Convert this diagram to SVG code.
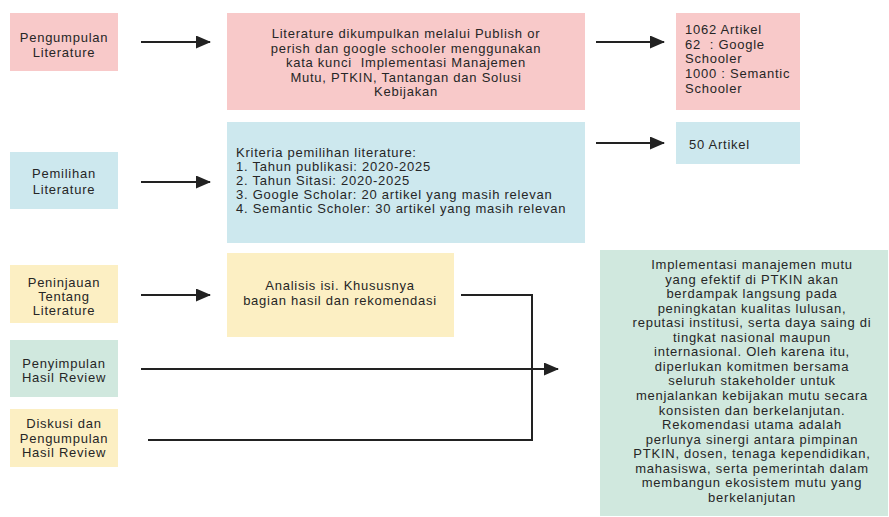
<svg xmlns="http://www.w3.org/2000/svg" width="889" height="517" viewBox="0 0 889 517">
<defs>
<marker id="ah" markerWidth="15" markerHeight="13" refX="14" refY="6.5" orient="auto" markerUnits="userSpaceOnUse" viewBox="0 0 15 13">
<path d="M0,0 L15,6.5 L0,13 Z" fill="#222"/>
</marker>
<style>
text{font-family:"Liberation Sans",Arial,sans-serif;font-size:13px;letter-spacing:0.75px;fill:#262626}
.c{text-anchor:middle}
.pre{white-space:pre}
.pink{fill:#F8C9C9}
.blue{fill:#CDE8EE}
.yel{fill:#FCEFC3}
.grn{fill:#D0E8DE}
.ln{stroke:#222;stroke-width:2;fill:none}
</style>
</defs>
<rect width="889" height="517" fill="#fff"/>
<g id="n1"><rect class="pink" x="10" y="13" width="108" height="58"/>
<text class="c" x="64" y="42">Pengumpulan</text><text class="c" x="64" y="57">Literature</text></g>
<g id="n2"><rect class="pink" x="227" y="13" width="358" height="97"/>
<text class="c" x="406" y="38">Literature dikumpulkan melalui Publish or</text>
<text class="c" x="406" y="53">perish dan google schooler menggunakan</text>
<text class="c pre" x="406" y="67" xml:space="preserve">kata kunci  Implementasi Manajemen</text>
<text class="c" x="406" y="82">Mutu, PTKIN, Tantangan dan Solusi</text>
<text class="c" x="406" y="96">Kebijakan</text></g>
<g id="n3"><rect class="pink" x="676" y="13" width="124" height="97"/>
<text x="685" y="34">1062 Artikel</text>
<text class="pre" x="685" y="49" xml:space="preserve">62  : Google</text>
<text x="685" y="63">Schooler</text>
<text x="685" y="78">1000 : Semantic</text>
<text x="685" y="93">Schooler</text></g>
<g id="n4"><rect class="blue" x="10" y="152" width="108" height="57"/>
<text class="c" x="64" y="178">Pemilihan</text><text class="c" x="64" y="194">Literature</text></g>
<g id="n5"><rect class="blue" x="227" y="122" width="358" height="121"/>
<text x="236" y="157">Kriteria pemilihan literature:</text>
<text x="236" y="171">1. Tahun publikasi: 2020-2025</text>
<text x="236" y="185">2. Tahun Sitasi: 2020-2025</text>
<text x="236" y="199">3. Google Scholar: 20 artikel yang masih relevan</text>
<text x="236" y="213">4. Semantic Scholer: 30 artikel yang masih relevan</text></g>
<g id="n6"><rect class="blue" x="676" y="122" width="124" height="42"/>
<text x="689" y="149">50 Artikel</text></g>
<g id="n7"><rect class="yel" x="10" y="265" width="108" height="58"/>
<text class="c" x="64" y="287">Peninjauan</text><text class="c" x="64" y="301">Tentang</text><text class="c" x="64" y="315">Literature</text></g>
<g id="n8"><rect class="yel" x="227" y="253" width="227" height="84"/>
<text class="c" x="340" y="290">Analisis isi. Khususnya</text>
<text class="c" x="340" y="305">bagian hasil dan rekomendasi</text></g>
<g id="n9"><rect class="grn" x="10" y="340" width="108" height="57"/>
<text class="c" x="64" y="368">Penyimpulan</text><text class="c" x="64" y="382">Hasil Review</text></g>
<g id="n10"><rect class="yel" x="10" y="409" width="108" height="58"/>
<text class="c" x="64" y="428">Diskusi dan</text><text class="c" x="64" y="443">Pengumpulan</text><text class="c" x="64" y="457">Hasil Review</text></g>
<g id="n11"><rect class="grn" x="600" y="250" width="288" height="266"/>
<text class="c" x="752" y="269">Implementasi manajemen mutu</text>
<text class="c" x="752" y="284">yang efektif di PTKIN akan</text>
<text class="c" x="752" y="298">berdampak langsung pada</text>
<text class="c" x="752" y="313">peningkatan kualitas lulusan,</text>
<text class="c" x="752" y="327">reputasi institusi, serta daya saing di</text>
<text class="c" x="752" y="342">tingkat nasional maupun</text>
<text class="c" x="752" y="356">internasional. Oleh karena itu,</text>
<text class="c" x="752" y="371">diperlukan komitmen bersama</text>
<text class="c" x="752" y="385">seluruh stakeholder untuk</text>
<text class="c" x="752" y="400">menjalankan kebijakan mutu secara</text>
<text class="c" x="752" y="415">konsisten dan berkelanjutan.</text>
<text class="c" x="752" y="429">Rekomendasi utama adalah</text>
<text class="c" x="752" y="444">perlunya sinergi antara pimpinan</text>
<text class="c" x="752" y="458">PTKIN, dosen, tenaga kependidikan,</text>
<text class="c" x="752" y="473">mahasiswa, serta pemerintah dalam</text>
<text class="c" x="752" y="487">membangun ekosistem mutu yang</text>
<text class="c" x="752" y="502">berkelanjutan</text>
</g>
<g id="connectors">
<line class="ln" x1="141" y1="42" x2="210" y2="42" marker-end="url(#ah)"/>
<line class="ln" x1="596" y1="42" x2="664" y2="42" marker-end="url(#ah)"/>
<line class="ln" x1="141" y1="182" x2="210" y2="182" marker-end="url(#ah)"/>
<line class="ln" x1="596" y1="143" x2="664" y2="143" marker-end="url(#ah)"/>
<line class="ln" x1="141" y1="295" x2="210" y2="295" marker-end="url(#ah)"/>
<polyline class="ln" points="461,295 532,295 532,440 148,440"/>
<line class="ln" x1="141" y1="369" x2="558" y2="369" marker-end="url(#ah)"/>
</g>
</svg>
